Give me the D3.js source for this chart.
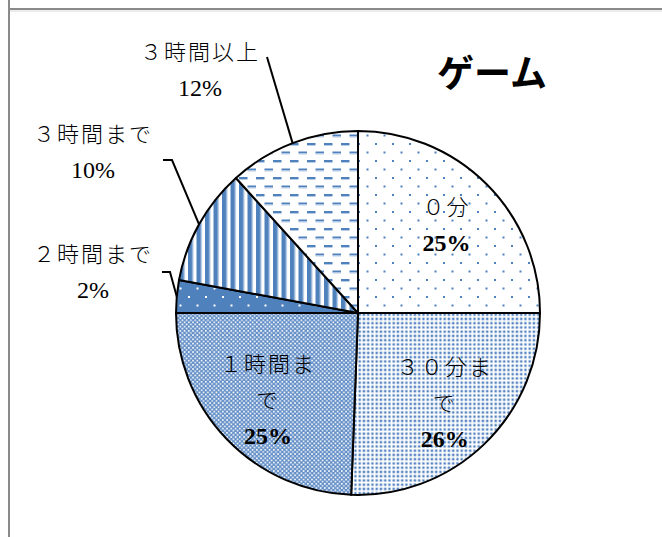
<!DOCTYPE html>
<html><head><meta charset="utf-8">
<script src="https://cdn.jsdelivr.net/npm/d3@7"></script>
<style>html,body{margin:0;padding:0;background:#fff;}svg{display:block;}</style>
</head><body>
<svg id="chart" width="662" height="537"></svg>
<script>
// ---- data ----
const title = "ゲーム";
const categories = ["０分", "３０分まで", "１時間まで", "２時間まで", "３時間まで", "３時間以上"];
const values = [25.0, 25.6, 24.4, 2.9, 10.4, 11.7];
const percentLabels = ["25%", "26%", "25%", "2%", "10%", "12%"];
const labelLines = [["０分"], ["３０分ま", "で"], ["１時間ま", "で"], ["２時間まで"], ["３時間まで"], ["３時間以上"]];

// ---- layout ----
const svg = d3.select("#chart");
const cx = 358, cy = 313, R = 182;
const blue = "#4f81bd", light = "#b9cde6";

// frame
svg.append("line").attr("x1", 9).attr("x2", 9).attr("y1", 0).attr("y2", 537).attr("stroke", "#8a8a8a").attr("stroke-width", 2);
svg.append("line").attr("x1", 9).attr("x2", 662).attr("y1", 9).attr("y2", 9).attr("stroke", "#8a8a8a").attr("stroke-width", 2);
svg.append("line").attr("x1", 10).attr("x2", 662).attr("y1", 11).attr("y2", 11).attr("stroke", "#d8d8d8").attr("stroke-width", 1);

// patterns
const defs = svg.append("defs");
function pat(id, w, h) {
  return defs.append("pattern").attr("id", id).attr("patternUnits", "userSpaceOnUse")
    .attr("width", w).attr("height", h);
}
// 0: sparse dots
let p = pat("p0", 17, 17);
p.append("rect").attr("width", 17).attr("height", 17).attr("fill", "#fff");
p.append("rect").attr("x", 0).attr("y", 0).attr("width", 2).attr("height", 2).attr("fill", blue);
p.append("rect").attr("x", 8.5).attr("y", 8.5).attr("width", 2).attr("height", 2).attr("fill", blue);
// 1: dense grid of dots
p = pat("p1", 4.25, 4.25);
p.append("rect").attr("width", 4.25).attr("height", 4.25).attr("fill", "#fff");
p.append("rect").attr("x", 0.5).attr("y", 0.5).attr("width", 2.4).attr("height", 2.4).attr("fill", "#5584c2");
// 2: lattice (blue with white holes)
p = pat("p2", 4.25, 4.25);
p.append("rect").attr("width", 4.25).attr("height", 4.25).attr("fill", "#6590c8");
p.append("rect").attr("x", 0).attr("y", 0).attr("width", 1.6).attr("height", 1.6).attr("fill", "#fff");
p.append("rect").attr("x", 2.12).attr("y", 2.12).attr("width", 1.6).attr("height", 1.6).attr("fill", "#fff");
// 3: solid with white dots
p = pat("p3", 17, 17);
p.append("rect").attr("width", 17).attr("height", 17).attr("fill", blue);
p.append("rect").attr("x", 0).attr("y", 0).attr("width", 2).attr("height", 2).attr("fill", "#fff");
p.append("rect").attr("x", 8.5).attr("y", 8.5).attr("width", 2).attr("height", 2).attr("fill", "#fff");
// 4: vertical stripes
p = pat("p4", 8.5, 10);
p.append("rect").attr("width", 8.5).attr("height", 10).attr("fill", "#fff");
p.append("rect").attr("x", 0).attr("width", 4.5).attr("height", 10).attr("fill", blue);
p.append("rect").attr("x", 4.5).attr("width", 1).attr("height", 10).attr("fill", light);
// 5: horizontal dashes
p = pat("p5", 17, 17);
p.append("rect").attr("width", 17).attr("height", 17).attr("fill", "#fff");
p.append("rect").attr("x", 0).attr("y", 0).attr("width", 8.5).attr("height", 2).attr("fill", blue);
p.append("rect").attr("x", 0).attr("y", 2).attr("width", 8.5).attr("height", 1).attr("fill", light);
p.append("rect").attr("x", 8.5).attr("y", 8.5).attr("width", 8.5).attr("height", 2).attr("fill", blue);
p.append("rect").attr("x", 8.5).attr("y", 10.5).attr("width", 8.5).attr("height", 1).attr("fill", light);

const pie = d3.pie().sort(null).value(d => d)(values);
const arc = d3.arc().innerRadius(0).outerRadius(R);
const g = svg.append("g").attr("transform", `translate(${cx},${cy})`);
g.selectAll("path.slice").data(pie).join("path").attr("class", "slice")
  .attr("d", arc).attr("fill", (d, i) => `url(#p${i})`)
  .attr("stroke", "#000").attr("stroke-width", 2).attr("stroke-linejoin", "round");

const font = "'Liberation Serif', 'Noto Sans CJK JP', serif";
const jpFont = "'Noto Sans CJK JP', 'Liberation Serif', serif";
const lineH = 36;
const jpSize = 22, pctSize = 24;

// inside labels
const labelArc = d3.arc().innerRadius(125).outerRadius(125);
[0, 1, 2].forEach(i => {
  const [x, y] = labelArc.centroid(pie[i]);
  const lines = labelLines[i].concat([percentLabels[i]]);
  const t = g.append("text").attr("text-anchor", "middle").attr("fill", "#000");
  const y0 = y - (lines.length - 1) * lineH / 2 + 8;
  lines.forEach((s, k) => {
    const isPct = k === lines.length - 1;
    t.append("tspan").attr("x", x).attr("y", y0 + k * lineH).text(s)
      .attr("font-family", isPct ? font : jpFont)
      .attr("font-size", isPct ? pctSize : jpSize)
      .attr("font-weight", isPct ? "bold" : 300)
      .attr("letter-spacing", isPct ? 0 : 2);
  });
});

// outside labels (label centre positions) with leader lines
const outside = [
  {i: 3, x: 93, y: 272, path: [[162, 272], [170, 272]]},
  {i: 4, x: 93, y: 152, path: [[163, 160], [172, 160]]},
  {i: 5, x: 200, y: 70, path: [[267, 57]]}
];
outside.forEach(o => {
  const d = pie[o.i];
  const a = (d.startAngle + d.endAngle) / 2;
  const end = [cx + R * Math.sin(a), cy - R * Math.cos(a)];
  svg.append("path").attr("d", d3.line()(o.path.concat([end])))
    .attr("fill", "none").attr("stroke", "#000").attr("stroke-width", 2);
  const t = svg.append("text").attr("text-anchor", "middle").attr("fill", "#000");
  t.append("tspan").attr("x", o.x).attr("y", o.y - lineH / 2 + 8).text(labelLines[o.i][0])
    .attr("font-family", jpFont).attr("font-size", jpSize).attr("font-weight", 300).attr("letter-spacing", 2);
  t.append("tspan").attr("x", o.x).attr("y", o.y + lineH / 2 + 8).text(percentLabels[o.i])
    .attr("font-family", font).attr("font-size", pctSize);
});

// title
svg.append("text").attr("x", 492).attr("y", 87).attr("text-anchor", "middle")
  .attr("font-family", "'Noto Sans CJK JP', sans-serif").attr("font-weight", "bold")
  .attr("font-size", 37).attr("fill", "#000").text(title);
</script>
</body></html>
